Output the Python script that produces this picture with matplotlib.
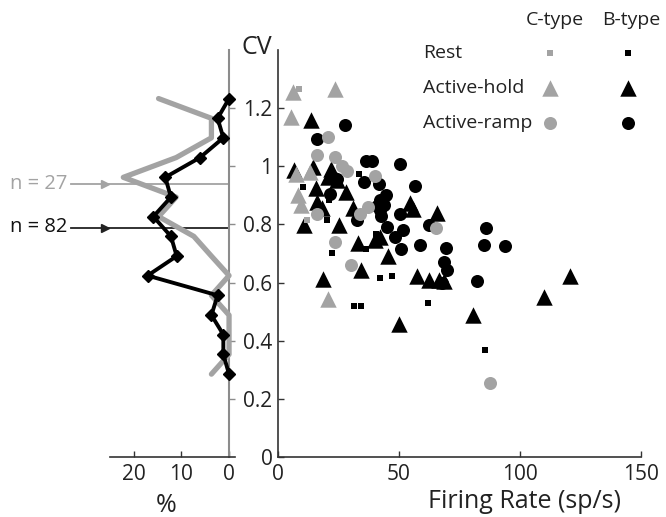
import matplotlib
matplotlib.use('Agg')
import matplotlib.pyplot as plt

plt.rcParams['font.family'] = ['Open Sans', 'DejaVu Sans']

GRAY = '#a3a3a3'

# ---------------- data ----------------
# C-type cells (gray)
c_rest_fr = [8.5, 12.0]
c_rest_cv = [1.265, 0.815]
c_hold_fr = [6.3, 23.6, 5.2, 7.5, 13.3, 8.4, 9.5, 20.8]
c_hold_cv = [1.255, 1.267, 1.17, 0.975, 0.98, 0.90, 0.866, 0.545]
c_ramp_fr = [20.8, 16.1, 23.5, 26.3, 28.5, 40.1, 37.3, 33.7, 16.1, 23.7, 30.1, 65.3, 87.6]
c_ramp_cv = [1.10, 1.04, 1.033, 1.0, 0.985, 0.966, 0.86, 0.835, 0.835, 0.74, 0.662, 0.786, 0.253]

# B-type cells (black)
b_rest_fr = [10.4, 33.4, 20.3, 21.2, 22.5, 36.4, 40.6, 42.1, 47.0, 31.5, 34.5, 61.9, 85.5]
b_rest_cv = [0.929, 0.972, 0.816, 0.883, 0.703, 0.714, 0.768, 0.617, 0.624, 0.52, 0.52, 0.531, 0.368]
b_hold_fr = [13.5, 6.5, 14.5, 21.8, 20.8, 24.3, 15.5, 28.0, 16.3, 18.1, 30.8, 10.7, 25.4,
             33.0, 34.2, 18.4, 40.1, 42.1, 45.5, 54.5, 55.6, 65.9, 57.3, 62.6, 66.5, 68.8,
             50.0, 80.4, 110.0, 120.7]
b_hold_cv = [1.158, 0.988, 0.997, 0.99, 0.962, 0.952, 0.926, 0.912, 0.878, 0.855, 0.855, 0.797, 0.797,
             0.735, 0.643, 0.611, 0.748, 0.757, 0.692, 0.875, 0.853, 0.838, 0.623, 0.608, 0.61, 0.605,
             0.459, 0.487, 0.551, 0.622]
b_ramp_fr = [27.7, 16.0, 36.3, 38.7, 50.4, 35.5, 41.9, 56.5, 21.5, 44.6, 42.1, 40.8, 43.9, 32.5,
             42.2, 42.4, 50.5, 44.9, 51.8, 48.3, 50.7, 58.8, 62.4, 69.4, 68.8, 69.8, 67.7, 85.8,
             85.0, 93.9, 82.3, 24.5]
b_ramp_cv = [1.141, 1.093, 1.018, 1.018, 1.007, 0.946, 0.94, 0.931, 0.906, 0.902, 0.883, 0.862, 0.868, 0.814,
             0.849, 0.828, 0.835, 0.791, 0.782, 0.757, 0.714, 0.728, 0.797, 0.72, 0.671, 0.643, 0.60, 0.787,
             0.729, 0.725, 0.604, 0.955]

# CV histograms (% of cells)
cv_bins = [0.285, 0.353, 0.421, 0.488, 0.556, 0.624, 0.691, 0.759, 0.827, 0.894,
           0.962, 1.030, 1.098, 1.165, 1.233]
c_pct = [3.7, 0, 0, 0, 3.7, 0, 3.7, 7.4, 14.8, 11.1, 22.2, 11.1, 3.7, 3.7, 14.8]
b_pct = [0, 1.2, 1.2, 3.7, 2.4, 17.1, 11.0, 12.2, 15.9, 12.2, 13.4, 6.1, 1.2, 2.4, 0]
mean_cv_c = 0.938
mean_cv_b = 0.788
n_c = 27
n_b = 82

x_ticks = [0, 50, 100, 150]
y_ticks = [0, 0.2, 0.4, 0.6, 0.8, 1.0, 1.2]
y_ticklabels = ['0', '0.2', '0.4', '0.6', '0.8', '1', '1.2']
h_ticks = [20, 10, 0]

# ---------------- figure ----------------
W, H = 666, 517
fig = plt.figure(figsize=(W / 100, H / 100), dpi=100)

def fx(px):
    return px / W

def fy(py):
    return 1 - py / H

ax = fig.add_axes([fx(278), fy(457), fx(641) - fx(278), fy(50) - fy(457)])
axh = fig.add_axes([fx(110), fy(457), fx(235) - fx(110), fy(50) - fy(457)])

SP = '#333333'
TXT = '#222222'
# scatter panel
ax.set_xlim(0, 150)
ax.set_ylim(0, 1.4)
for s in ['top', 'right']:
    ax.spines[s].set_visible(False)
for s in ['left', 'bottom']:
    ax.spines[s].set_color(SP)
    ax.spines[s].set_linewidth(1.2)
ax.set_xticks(x_ticks)
ax.set_yticks(y_ticks)
ax.set_yticklabels(y_ticklabels)
ax.tick_params(direction='in', length=4, width=1, colors=SP, labelsize=15,
               labelcolor=TXT)
ax.tick_params(axis='x', pad=5)
ax.tick_params(axis='y', pad=4)
ax.patch.set_alpha(0)

ms_sq, ms_tri, ms_cir = 24, 140, 88
ax.scatter(b_rest_fr, b_rest_cv, marker='s', s=ms_sq, color='black', lw=0, zorder=3)
ax.scatter(b_hold_fr, b_hold_cv, marker='^', s=ms_tri, color='black', lw=0, zorder=3)
ax.scatter(b_ramp_fr, b_ramp_cv, marker='o', s=ms_cir, color='black', lw=0, zorder=3)
ax.scatter(c_rest_fr, c_rest_cv, marker='s', s=ms_sq, color=GRAY, lw=0, zorder=4)
ax.scatter(c_hold_fr, c_hold_cv, marker='^', s=ms_tri, color=GRAY, lw=0, zorder=4)
ax.scatter(c_ramp_fr, c_ramp_cv, marker='o', s=ms_cir, color=GRAY, lw=0, zorder=4)

# histogram panel
axh.set_xlim(25, -1.25)
axh.set_ylim(0, 1.4)
axh.patch.set_alpha(0)
axh.spines['top'].set_visible(False)
axh.spines['left'].set_visible(False)
axh.spines['right'].set_position(('data', 0))
axh.spines['right'].set_color('#8c8c8c')
axh.spines['right'].set_linewidth(1.5)
axh.spines['bottom'].set_color(SP)
axh.spines['bottom'].set_linewidth(1.2)
axh.yaxis.tick_right()
axh.set_yticks(y_ticks[1:])
axh.tick_params(axis='y', direction='out', length=4, width=1, colors='#8c8c8c',
                labelright=False, labelleft=False)
axh.set_xticks(h_ticks)
axh.set_xticklabels([str(t) for t in h_ticks])
axh.tick_params(axis='x', direction='in', length=4, width=1, colors=SP,
                labelsize=15, labelcolor=TXT, pad=5)

axh.plot(c_pct, cv_bins, color=GRAY, lw=3.8, solid_capstyle='round',
         solid_joinstyle='round', zorder=3)
axh.plot(b_pct, cv_bins, color='black', lw=2.8, marker='D', ms=6.5,
         solid_joinstyle='round', zorder=4)

# mean markers with arrows
for mcv, col in [(mean_cv_c, GRAY), (mean_cv_b, TXT)]:
    axh.plot([33.1, 0], [mcv, mcv], color=col, lw=1.3, clip_on=False, zorder=2)
    axh.plot([26.0], [mcv], marker='>', ms=6, color=col, lw=0, clip_on=False, zorder=2)

fig.text(fx(10), fy(184), f'n = {n_c}', color=GRAY, fontsize=14.5, ha='left', va='center')
fig.text(fx(10), fy(227), f'n = {n_b}', color='#111111', fontsize=14.5, ha='left', va='center')

# axis labels
fig.text(fx(166), fy(505), '%', fontsize=18, ha='center', va='center', color=TXT)
fig.text(fx(525), fy(502), 'Firing Rate (sp/s)', fontsize=18, ha='center', va='center',
         color=TXT)
fig.text(fx(257), fy(48), 'CV', fontsize=18, ha='center', va='center', color=TXT)

# legend (overlay in pixel coordinates)
ov = fig.add_axes([0, 0, 1, 1])
ov.set_xlim(0, W)
ov.set_ylim(H, 0)
ov.axis('off')
ov.text(555, 20, 'C-type', fontsize=14, ha='center', va='center', color=TXT)
ov.text(631, 20, 'B-type', fontsize=14, ha='center', va='center', color=TXT)
rows = [('Rest', 's', ms_sq, 53), ('Active-hold', '^', ms_tri, 88), ('Active-ramp', 'o', ms_cir, 123)]
for label, mk, sz, yy in rows:
    ov.text(423, yy, label, fontsize=14, ha='left', va='center', color=TXT)
    ov.scatter([550], [yy], marker=mk, s=sz, color=GRAY, lw=0)
    ov.scatter([628], [yy], marker=mk, s=sz, color='black', lw=0)

fig.savefig('out.png', dpi=100)
